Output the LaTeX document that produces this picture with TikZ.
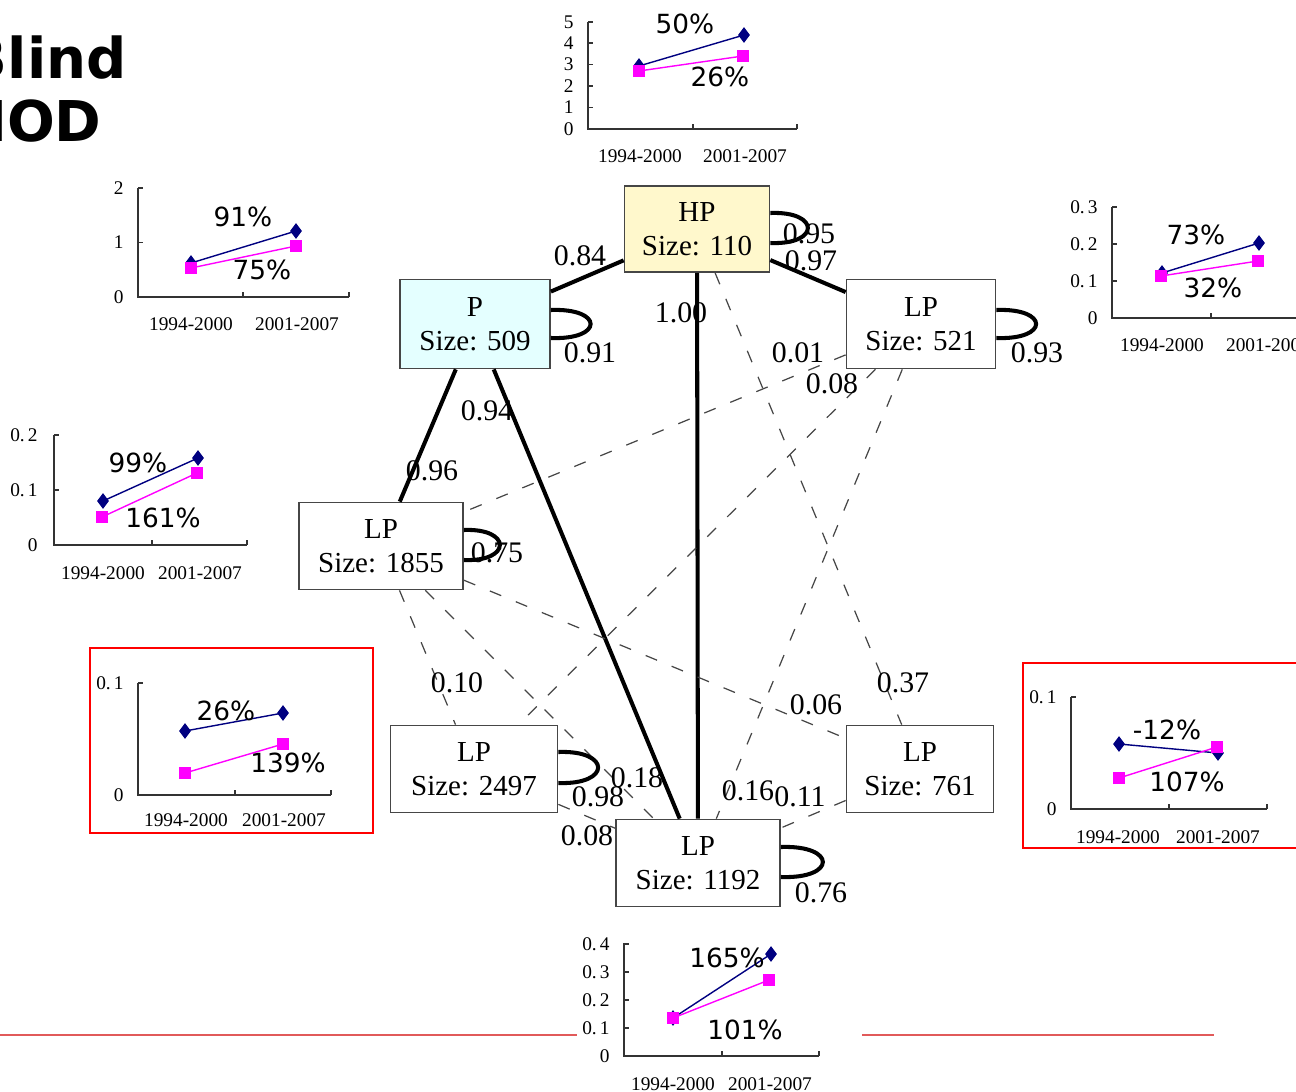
\documentclass[tikz,border=0pt]{standalone}
\usepackage{fontspec}
\setmainfont{Liberation Serif}
\newfontfamily\sansfont{DejaVu Sans}
\usepackage{xcolor}
\definecolor{hpyellow}{RGB}{255, 248, 204}
\definecolor{pcyan}{RGB}{228, 255, 255}
\definecolor{boxgrey}{RGB}{70, 70, 70}
\definecolor{dashgrey}{RGB}{70, 70, 70}
\definecolor{chartnavy}{RGB}{0, 0, 128}
\definecolor{chartpink}{RGB}{255, 0, 255}
\definecolor{rulered}{RGB}{225, 90, 90}
\usepackage{tikz}
\usetikzlibrary{calc, plotmarks}

\begin{document}
\begin{tikzpicture}[x=0.02cm, y=-0.02cm,
    statebox/.style={draw=boxgrey, line width=1pt, fill=white, align=center, inner sep=0pt, font=\fontsize{16.5}{19.5}\selectfont},
    strong/.style={line width=2.3pt, black},
    weak/.style={line width=0.7pt, dashgrey, dash pattern=on 7pt off 9pt},
    probl/.style={inner sep=0pt, font=\fontsize{17}{17}\selectfont},
    heading/.style={anchor=base east, inner sep=0pt, font=\sansfont\bfseries\fontsize{32}{32}\selectfont},
    axisline/.style={line width=0.8pt, black!80},
    ticklbl/.style={inner sep=0pt, font=\fontsize{11}{11}\selectfont},
    pct/.style={inner sep=0pt, font=\sansfont\fontsize{15}{15}\selectfont},
    navyline/.style={chartnavy, line width=0.8pt, mark=diamond*, mark size=3.8pt, mark options={fill=chartnavy}},
    pinkline/.style={chartpink, line width=0.8pt, mark=square*, mark size=3.2pt, mark options={fill=chartpink}},
    redframe/.style={draw=red, line width=1.1pt},
    hline/.style={rulered, line width=0.8pt}]
    \useasboundingbox (0,0) rectangle (1296,1092);
    \clip (0,0) rectangle (1296,1092);

    % Title
    \node[heading] (blind) at (127,78) {Blind};
    \node[heading] (mod) at (102,141) {MOD};

    % Cluster boxes
    \node[statebox, fill=hpyellow, minimum width=2.9cm, minimum height=1.72cm] (hp) at (697,229) {HP\\Size: 110};
    \node[statebox, fill=pcyan, minimum width=3.0cm, minimum height=1.78cm] (p) at (475,324) {P\\Size: 509};
    \node[statebox, minimum width=2.98cm, minimum height=1.78cm] (lp521) at (921,324) {LP\\Size: 521};
    \node[statebox, minimum width=3.28cm, minimum height=1.74cm] (lp1855) at (381,546) {LP\\Size: 1855};
    \node[statebox, minimum width=3.34cm, minimum height=1.74cm] (lp2497) at (474,769) {LP\\Size: 2497};
    \node[statebox, minimum width=2.94cm, minimum height=1.74cm] (lp761) at (920,769) {LP\\Size: 761};
    \node[statebox, minimum width=3.28cm, minimum height=1.74cm] (lp1192) at (698,863) {LP\\Size: 1192};

    % Strong transitions
    \draw[strong] (p) -- (hp);
    \draw[strong] (hp) -- (lp521);
    \draw[strong] (hp) -- (lp1192);
    \draw[strong] (p) -- (lp1855);
    \draw[strong] (p) -- (lp1192);

    % Weak transitions
    \draw[weak] (hp) -- (lp761);
    \draw[weak] (lp521) -- (lp1192);
    \draw[weak] (lp521) -- (lp1855);
    \draw[weak] (lp521) -- (lp2497);
    \draw[weak] (lp1855) -- (lp761);
    \draw[weak] (lp1855) -- (lp2497);
    \draw[weak] (lp1855) -- (lp1192);
    \draw[weak] (lp2497) -- (lp1192);
    \draw[weak] (lp761) -- (lp1192);

    % Self loops
    \draw[strong] ($(hp.east)+(0,-16)$) .. controls +(50,-2) and +(50,2) .. ($(hp.east)+(0,14)$);
    \draw[strong] ($(p.east)+(0,-14)$) .. controls +(53,-2) and +(53,2) .. ($(p.east)+(0,14)$);
    \draw[strong] ($(lp521.east)+(0,-14)$) .. controls +(53,-2) and +(53,2) .. ($(lp521.east)+(0,14)$);
    \draw[strong] ($(lp1855.east)+(0,-16)$) .. controls +(48,-2) and +(48,2) .. ($(lp1855.east)+(0,14)$);
    \draw[strong] ($(lp2497.east)+(0,-17)$) .. controls +(53,-2) and +(53,2) .. ($(lp2497.east)+(0,14)$);
    \draw[strong] ($(lp1192.east)+(0,-16)$) .. controls +(56,-2) and +(56,2) .. ($(lp1192.east)+(0,14)$);

    % Transition probabilities
    \node[probl] (w084) at (580,256) {0.84};
    \node[probl] (w095) at (809,234) {0.95};
    \node[probl] (w097) at (811,261) {0.97};
    \node[probl] (w100) at (681,313) {1.00};
    \node[probl] (w091) at (590,353) {0.91};
    \node[probl] (w093) at (1037,353) {0.93};
    \node[probl] (w094) at (487,411) {0.94};
    \node[probl] (w096) at (432,471) {0.96};
    \node[probl] (w001) at (798,353) {0.01};
    \node[probl] (w008a) at (832,384) {0.08};
    \node[probl] (w075) at (497,553) {0.75};
    \node[probl] (w010) at (457,683) {0.10};
    \node[probl] (w037) at (903,683) {0.37};
    \node[probl] (w006) at (816,705) {0.06};
    \node[probl] (w018) at (637,778) {0.18};
    \node[probl] (w098) at (598,797) {0.98};
    \node[probl] (w016) at (748,791) {0.16};
    \node[probl] (w011) at (800,797) {0.11};
    \node[probl] (w008b) at (587,836) {0.08};
    \node[probl] (w076) at (821,893) {0.76};

    % Red rules and frames
    \draw[hline] (0,1035) -- (577,1035);
    \draw[hline] (862,1035) -- (1214,1035);
    \draw[redframe] (90,648) rectangle (373,833);
    \draw[redframe] (1023,663) rectangle (1310,848);

    % Chart for HP
    \draw[axisline] (588,22) -- (588,129) -- (797,129);
    \foreach \v/\k in {129/0, 107.5/1, 86/2, 64.5/3, 43/4, 22/5} {
      \draw[axisline] (588,\v) -- ++(5,0);
      \node[ticklbl, anchor=east] (hpy\k) at (574,\v) {\k};
    }
    \foreach \u in {588, 693, 797} \draw[axisline] (\u,129) -- ++(0,-5);
    \node[ticklbl] (hpxa) at (640,156) {1994-2000};
    \node[ticklbl] (hpxb) at (745,156) {2001-2007};
    \draw[navyline] plot coordinates {(639,66) (744,35)};
    \draw[pinkline] plot coordinates {(639,71) (743,56)};
    \node[pct] (hpup) at (685,24) {50\%};
    \node[pct] (hplow) at (720,77) {26\%};

    % Chart for P
    \draw[axisline] (138,188) -- (138,297) -- (349,297);
    \foreach \v/\k in {297/0, 242.5/1, 188/2} {
      \draw[axisline] (138,\v) -- ++(5,0);
      \node[ticklbl, anchor=east] (py\k) at (124,\v) {\k};
    }
    \foreach \u in {138, 243, 349} \draw[axisline] (\u,297) -- ++(0,-5);
    \node[ticklbl] (pxa) at (191,324) {1994-2000};
    \node[ticklbl] (pxb) at (297,324) {2001-2007};
    \draw[navyline] plot coordinates {(191,263) (296,231)};
    \draw[pinkline] plot coordinates {(191,268) (296,246)};
    \node[pct] (pup) at (243,217) {91\%};
    \node[pct] (plow) at (262,270) {75\%};

    % Chart for LP 521
    \draw[axisline] (1112,207) -- (1112,318) -- (1310,318);
    \foreach \v/\t/\k in {318/0/a, 281/0.\,1/b, 244/0.\,2/c, 207/0.\,3/d} {
      \draw[axisline] (1112,\v) -- ++(5,0);
      \node[ticklbl, anchor=east] (lpay\k) at (1098,\v) {\t};
    }
    \foreach \u in {1112, 1211} \draw[axisline] (\u,318) -- ++(0,-5);
    \node[ticklbl] (lpaxa) at (1162,345) {1994-2000};
    \node[ticklbl] (lpaxb) at (1268,345) {2001-2007};
    \draw[navyline] plot coordinates {(1162,273) (1259,243)};
    \draw[pinkline] plot coordinates {(1161,276) (1258,261)};
    \node[pct] (lpaup) at (1196,235) {73\%};
    \node[pct] (lpalow) at (1213,288) {32\%};

    % Chart for LP 1855
    \draw[axisline] (54,435) -- (54,545) -- (247,545);
    \foreach \v/\t/\k in {545/0/a, 490/0.\,1/b, 435/0.\,2/c} {
      \draw[axisline] (54,\v) -- ++(5,0);
      \node[ticklbl, anchor=east] (lpby\k) at (38,\v) {\t};
    }
    \foreach \u in {54, 152, 247} \draw[axisline] (\u,545) -- ++(0,-5);
    \node[ticklbl] (lpbxa) at (103,573) {1994-2000};
    \node[ticklbl] (lpbxb) at (200,573) {2001-2007};
    \draw[navyline] plot coordinates {(103,501) (198,458)};
    \draw[pinkline] plot coordinates {(102,517) (197,473)};
    \node[pct] (lpbup) at (138,463) {99\%};
    \node[pct] (lpblow) at (163,518) {161\%};

    % Chart for LP 2497
    \draw[axisline] (138,683) -- (138,795) -- (331,795);
    \foreach \v/\t/\k in {795/0/a, 683/0.\,1/b} {
      \draw[axisline] (138,\v) -- ++(5,0);
      \node[ticklbl, anchor=east] (lpcy\k) at (124,\v) {\t};
    }
    \foreach \u in {138, 235, 331} \draw[axisline] (\u,795) -- ++(0,-5);
    \node[ticklbl] (lpcxa) at (186,820) {1994-2000};
    \node[ticklbl] (lpcxb) at (284,820) {2001-2007};
    \draw[navyline] plot coordinates {(185,731) (283,713)};
    \draw[pinkline] plot coordinates {(185,773) (283,744)};
    \node[pct] (lpcup) at (226,711) {26\%};
    \node[pct] (lpclow) at (288,763) {139\%};

    % Chart for LP 761
    \draw[axisline] (1071,697) -- (1071,809) -- (1267,809);
    \foreach \v/\t/\k in {809/0/a, 697/0.\,1/b} {
      \draw[axisline] (1071,\v) -- ++(5,0);
      \node[ticklbl, anchor=east] (lpdy\k) at (1057,\v) {\t};
    }
    \foreach \u in {1071, 1169, 1267} \draw[axisline] (\u,809) -- ++(0,-5);
    \node[ticklbl] (lpdxa) at (1118,837) {1994-2000};
    \node[ticklbl] (lpdxb) at (1218,837) {2001-2007};
    \draw[navyline] plot coordinates {(1119,744) (1218,753)};
    \draw[pinkline] plot coordinates {(1119,778) (1217,747)};
    \node[pct] (lpdup) at (1167,730) {-12\%};
    \node[pct] (lpdlow) at (1187,782) {107\%};

    % Chart for LP 1192
    \draw[axisline] (624,943) -- (624,1056) -- (819,1056);
    \foreach \v/\t/\k in {1056/0/a, 1028/0.\,1/b, 1000/0.\,2/c, 972/0.\,3/d, 944/0.\,4/e} {
      \draw[axisline] (624,\v) -- ++(5,0);
      \node[ticklbl, anchor=east] (lpey\k) at (610,\v) {\t};
    }
    \foreach \u in {624, 722, 819} \draw[axisline] (\u,1056) -- ++(0,-5);
    \node[ticklbl] (lpexa) at (673,1084) {1994-2000};
    \node[ticklbl] (lpexb) at (770,1084) {2001-2007};
    \draw[navyline] plot coordinates {(673,1018) (771,954)};
    \draw[pinkline] plot coordinates {(673,1018) (769,980)};
    \node[pct] (lpeup) at (727,958) {165\%};
    \node[pct] (lpelow) at (745,1030) {101\%};
\end{tikzpicture}
\end{document}
